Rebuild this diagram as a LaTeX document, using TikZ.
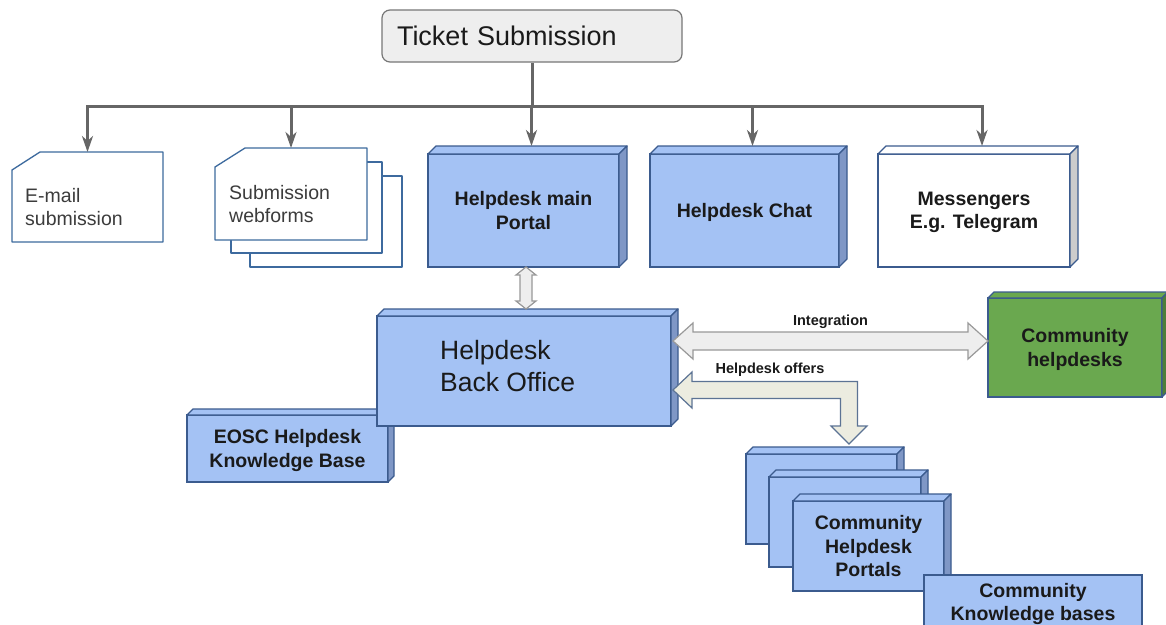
\documentclass[tikz,border=0pt]{standalone}
\usepackage{fontspec}
\setmainfont{Liberation Sans}
\usetikzlibrary{arrows.meta,calc}

\definecolor{boxblue}{HTML}{A4C2F4}
\definecolor{boxblueside}{HTML}{7F97C6}
\definecolor{boxedge}{HTML}{3B5B8E}
\definecolor{boxgreen}{HTML}{6AA84F}
\definecolor{boxgreenside}{HTML}{4E7E3A}
\definecolor{treegray}{HTML}{666666}
\definecolor{tickfill}{HTML}{EEEEEE}
\definecolor{tickedge}{HTML}{777777}
\definecolor{arrfill}{HTML}{EEEEEE}
\definecolor{arredge}{HTML}{999999}
\definecolor{offerfill}{HTML}{ECECE0}
\definecolor{offeredge}{HTML}{5C7394}
\definecolor{cardedge}{HTML}{3D6A9E}
\definecolor{ink}{HTML}{1A1A1A}
\definecolor{msgside}{HTML}{CCCCCC}

% top and right faces of a raised box: node, depth, top fill, side fill, edge colour
\newcommand\boxfaces[5]{%
  \filldraw[draw=#5, line width=1.3pt, line join=round, fill=#3]
    (#1.north west) -- ++(#2,-#2) -- ([shift={(#2,-#2)}]#1.north east) -- (#1.north east) -- cycle;
  \filldraw[draw=#5, line width=1.3pt, line join=round, fill=#4]
    (#1.north east) -- ++(#2,-#2) -- ([shift={(#2,-#2)}]#1.south east) -- (#1.south east) -- cycle;
}

\begin{document}
\begin{tikzpicture}[x=1pt, y=-1pt,
  ticketbox/.style={draw=tickedge, fill=tickfill, rounded corners=8pt, line width=1.2pt,
    minimum height=52pt, text width=270pt, inner xsep=15pt, inner ysep=0pt, align=left,
    font=\fontsize{27}{32}\selectfont, text=ink},
  cardframe/.style={fill=white, inner sep=0pt, outer sep=0pt},
  cardline/.style={draw=cardedge, fill=white, line width=1.3pt, line join=round},
  cardtext/.style={align=left, inner sep=0pt, text=ink!85,
    font=\fontsize{19.5}{23.5}\selectfont},
  % fixed depth so that text with or without descenders sits alike
  cube/.style={draw=boxedge, fill=boxblue, line width=1.3pt, inner sep=0pt, outer sep=0pt,
    align=center, text=ink, font=\bfseries\fontsize{19.5}{23.5}\selectfont,
    text depth=-4pt},
  tree/.style={draw=treegray, line width=3pt, line join=miter},
  blockarrow/.style={draw=arredge, fill=arrfill, line width=1.2pt, line join=miter},
  offerarrow/.style={draw=offeredge, fill=offerfill, line width=1.2pt, line join=miter},
  lbl/.style={inner sep=0pt, text=ink, font=\bfseries\fontsize{14.5}{17}\selectfont}
]
\useasboundingbox (0,0) rectangle (1166,624);
\fill[white] (0,0) rectangle (1166,624);

% ---- root
\node[ticketbox] (ticket) at (532,36) {Ticket Submission};

% ---- submission channels
\node[cardframe, minimum width=151pt, minimum height=90pt] (email) at (87.5,197) {};
\draw[cardline] ([xshift=28pt]email.north west) -- (email.north east) -- (email.south east)
  -- (email.south west) -- ([yshift=-18pt]email.north west) -- cycle;
\node[cardtext, anchor=west] (emailtext) at ([shift={(13,10)}]email.west) {E-mail\\submission};

\filldraw[cardline] (250,176) rectangle (402,267);
\filldraw[cardline] (231,162) rectangle (382,253);
\node[cardframe, minimum width=152pt, minimum height=92pt] (web) at (291,194) {};
\draw[cardline] ([xshift=30pt]web.north west) -- (web.north east) -- (web.south east)
  -- (web.south west) -- ([yshift=-19pt]web.north west) -- cycle;
\node[cardtext, anchor=west] (webtext) at ([shift={(14,10)}]web.west) {Submission\\webforms};

\node[cube, minimum width=191pt, minimum height=113pt] (portal) at (523.5,210.5) {Helpdesk main\\Portal};
\boxfaces{portal}{8}{boxblue}{boxblueside}{boxedge}

\node[cube, minimum width=189pt, minimum height=113pt] (chat) at (744.5,210.5) {Helpdesk Chat};
\boxfaces{chat}{8}{boxblue}{boxblueside}{boxedge}

\node[cube, fill=white, minimum width=192pt, minimum height=113pt] (msg) at (974,210.5) {Messengers\\E.g. Telegram};
\boxfaces{msg}{8}{white}{msgside}{boxedge}

% ---- back office and knowledge base
\node[cube, minimum width=201pt, minimum height=67pt] (eosc) at (287.5,448.5) {EOSC Helpdesk\\Knowledge Base};
\boxfaces{eosc}{6}{boxblue}{boxblueside}{boxedge}

\node[cube, minimum width=294pt, minimum height=110pt] (bo) at (524,371) {};
\boxfaces{bo}{7}{boxblue}{boxblueside}{boxedge}
\node[anchor=west, align=left, inner sep=0pt, text=ink, font=\fontsize{26.5}{32}\selectfont]
  (botext) at ([shift={(63,-5)}]bo.west) {Helpdesk\\Back Office};

% ---- community side
\node[cube, fill=boxgreen, minimum width=174pt, minimum height=99pt] (ch) at (1075,347.5) {Community\\helpdesks};
\boxfaces{ch}{6}{boxgreen}{boxgreenside}{boxedge}

\node[cube, minimum width=151pt, minimum height=90pt] (cp1) at (821.5,499) {};
\boxfaces{cp1}{7}{boxblue}{boxblueside}{boxedge}
\node[cube, minimum width=152pt, minimum height=90pt] (cp2) at (845,522) {};
\boxfaces{cp2}{7}{boxblue}{boxblueside}{boxedge}
\node[cube, minimum width=151pt, minimum height=90pt] (cp3) at (868.5,546) {Community\\Helpdesk\\Portals};
\boxfaces{cp3}{7}{boxblue}{boxblueside}{boxedge}

\node[cube, minimum width=218pt, minimum height=54pt] (kb) at (1033,602) {Community\\Knowledge bases};

% ---- submission tree
\coordinate (bar) at (532,106);
\path ([shift={(8,-8)}]portal.north) coordinate (portaltop)
      ([shift={(8,-8)}]chat.north) coordinate (chattop)
      ([shift={(8,-8)}]msg.north) coordinate (msgtop);
\draw[tree] (ticket.south) -- (ticket.south |- bar);
\draw[tree, {Stealth[length=16pt,width=11pt,inset=5pt]}-{Stealth[length=16pt,width=11pt,inset=5pt]}]
  (email.north) -- (email.north |- bar) -- (msgtop |- bar) -- (msgtop);
\draw[tree, -{Stealth[length=16pt,width=11pt,inset=5pt]}] (web.north |- bar) -- (web.north);
\draw[tree, -{Stealth[length=16pt,width=11pt,inset=5pt]}] (portaltop |- bar) -- (portaltop);
\draw[tree, -{Stealth[length=16pt,width=11pt,inset=5pt]}] (chattop |- bar) -- (chattop);

% ---- portal <-> back office
\path ([xshift=2.5pt]portal.south) coordinate (vt)
      ([yshift=7pt]bo.north) coordinate (botop);
\coordinate (vb) at (vt |- botop);
\draw[blockarrow] (vt) -- ++(10,8) -- ++(-4,0) -- ($(vb)+(6,-8)$) -- ++(4,0) -- (vb)
  -- ++(-10,-8) -- ++(4,0) -- ($(vt)+(-6,8)$) -- ++(-4,0) -- cycle;

% ---- integration
\path ([shift={(0,-6.5)}]ch.west) coordinate (intR);
\coordinate (intL) at ($(bo.east |- intR)+(2,0)$);
\draw[blockarrow] (intL) -- ++(20,-18) -- ++(0,9) -- ($(intR)+(-20,-9)$) -- ++(0,-9) -- (intR)
  -- ++(-20,18) -- ++(0,-9) -- ($(intL)+(20,9)$) -- ++(0,9) -- cycle;
\node[lbl] (intlabel) at ($(intL)!0.5!(intR)+(0,-19.5)$) {Integration};

% ---- helpdesk offers
\path ([shift={(2,19)}]bo.east) coordinate (offL)
      ([shift={(-48,-10)}]cp1.north east) coordinate (offR);
\draw[offerarrow] (offL) -- ++(19,-18) -- ++(0,9.5) -- ($(offR |- offL)+(8.5,-8.5)$)
  -- ($(offR)+(8.5,-18)$) -- ++(9.5,0) -- (offR) -- ++(-18,-18) -- ++(9.5,0)
  -- ($(offR |- offL)+(-8.5,8.5)$) -- ($(offL)+(19,8.5)$) -- ++(0,9.5) -- cycle;
\node[lbl] (offlabel) at ($(offL)+(97,-20.5)$) {Helpdesk offers};

\end{tikzpicture}
\end{document}
